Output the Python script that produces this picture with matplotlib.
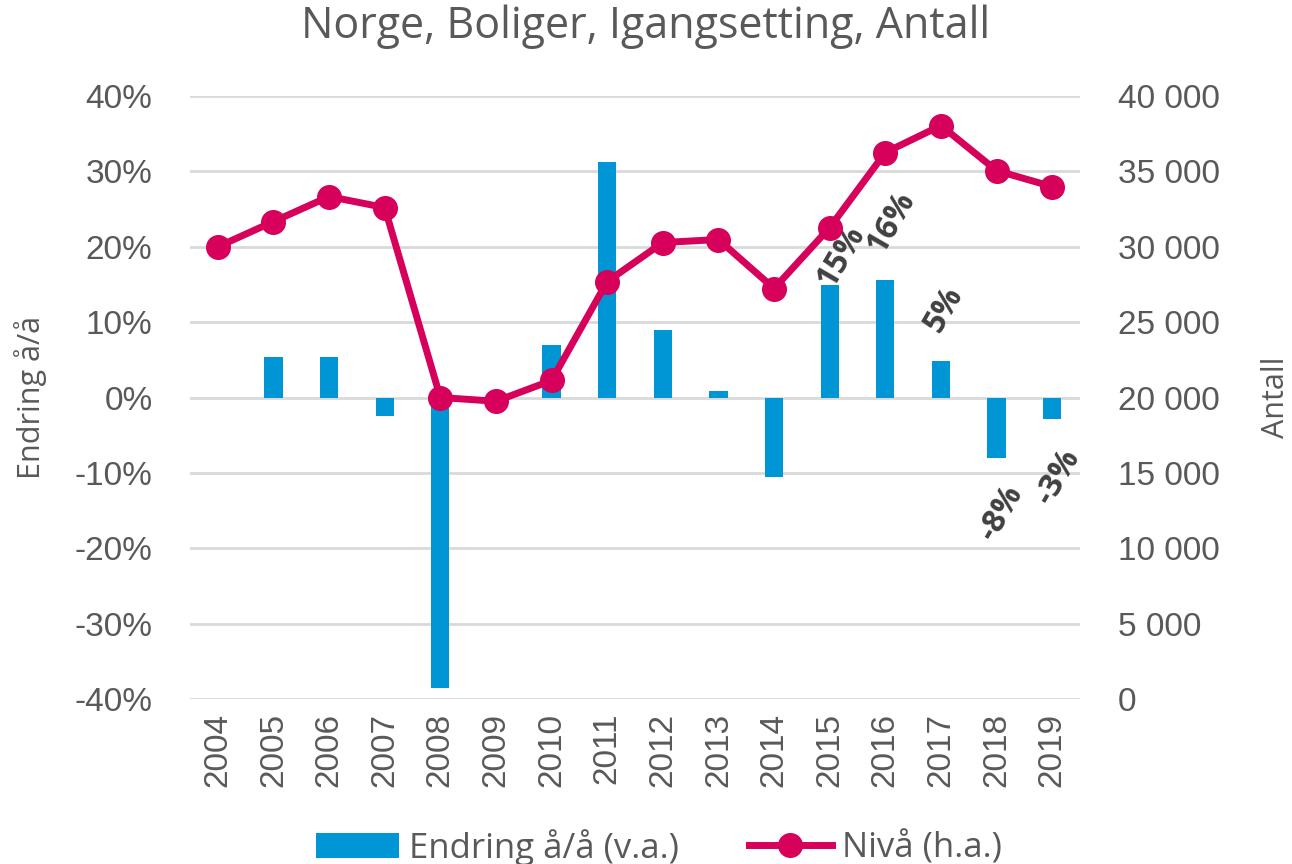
import numpy as np
import matplotlib.pyplot as plt
from matplotlib.ticker import FuncFormatter

plt.rcParams['font.family'] = ['Open Sans', 'DejaVu Sans']

# Data lest av figuren
years = ['2004', '2005', '2006', '2007', '2008', '2009', '2010', '2011',
         '2012', '2013', '2014', '2015', '2016', '2017', '2018', '2019']
endring = [np.nan, 5.4, 5.4, -2.4, -38.6, -1.2, 7.0, 31.3,
           8.9, 0.8, -10.6, 14.9, 15.6, 4.9, -8.0, -2.9]
niva = [30000, 31670, 33330, 32600, 20000, 19750, 21130, 27690,
        30280, 30480, 27230, 31270, 36250, 38040, 35050, 33990]

# dataetiketter (kun de siste årene)
label_idx = [11, 12, 13, 14, 15]
label_text = ['15%', '16%', '5%', '-8%', '-3%']
label_y = [18.7, 23.2, 11.7, -15.3, -10.5]
label_dx = [0.2, 0.1, 0.05, 0.08, 0.1]

bar_color = '#0096D6'
line_color = '#D7005B'
grey = '#595959'
tick_font = ['Liberation Sans', 'DejaVu Sans']

fig = plt.figure(figsize=(12.92, 8.64), dpi=100)
ax = fig.add_axes([190 / 1292, 1 - 699 / 864, 890 / 1292, 603 / 864])
ax2 = ax.twinx()

x = np.arange(len(years))
bars = ax.bar(x, endring, width=0.33, color=bar_color, zorder=2,
              label='Endring å/å (v.a.)')
line, = ax2.plot(x, niva, color=line_color, lw=5, marker='o', ms=17,
                 zorder=3, label='Nivå (h.a.)')

ax.set_ylim(-40, 40)
ax.set_yticks(np.arange(-40, 41, 10))
ax.yaxis.set_major_formatter(FuncFormatter(lambda v, p: f'{v:.0f}%'))
ax2.set_ylim(0, 40000)
ax2.set_yticks(np.arange(0, 40001, 5000))
ax2.yaxis.set_major_formatter(FuncFormatter(lambda v, p: f'{v:,.0f}'.replace(',', ' ')))
ax.set_xlim(-0.5, len(years) - 0.5)
ax.set_xticks(x)
ax.set_xticklabels(years, rotation=90)

ax.grid(axis='y', color='#D9D9D9', lw=2, zorder=0)
ax.set_axisbelow(True)
ax.set_zorder(ax2.get_zorder() - 1)
ax.patch.set_visible(False)
ax2.patch.set_visible(False)
for a in (ax, ax2):
    for s in a.spines.values():
        s.set_visible(False)
    a.tick_params(length=0, labelsize=24, colors=grey)
    for lab in a.get_xticklabels() + a.get_yticklabels():
        lab.set_family(tick_font)
ax.tick_params(axis='y', pad=27)
ax2.tick_params(axis='y', pad=27)
ax.tick_params(axis='x', pad=10)

ax.set_ylabel('Endring å/å', fontsize=22, color=grey, labelpad=20)
ax2.set_ylabel('Antall', fontsize=22, color=grey, rotation=90, labelpad=30)

for i, t, yy, dx in zip(label_idx, label_text, label_y, label_dx):
    ax.text(x[i] + dx, yy, t, rotation=60, ha='center', va='center',
            fontsize=23, fontweight='bold', color='#404040', zorder=5)

fig.suptitle('Norge, Boliger, Igangsetting, Antall', fontsize=31, color=grey,
             y=0.995)

fig.legend(handles=[bars, line], loc='lower center', ncol=2, frameon=False,
           fontsize=25, labelcolor=grey, bbox_to_anchor=(0.51, -0.038),
           handlelength=2.4, handletextpad=0.3, columnspacing=2.0)

fig.savefig('out.png', dpi=100)
